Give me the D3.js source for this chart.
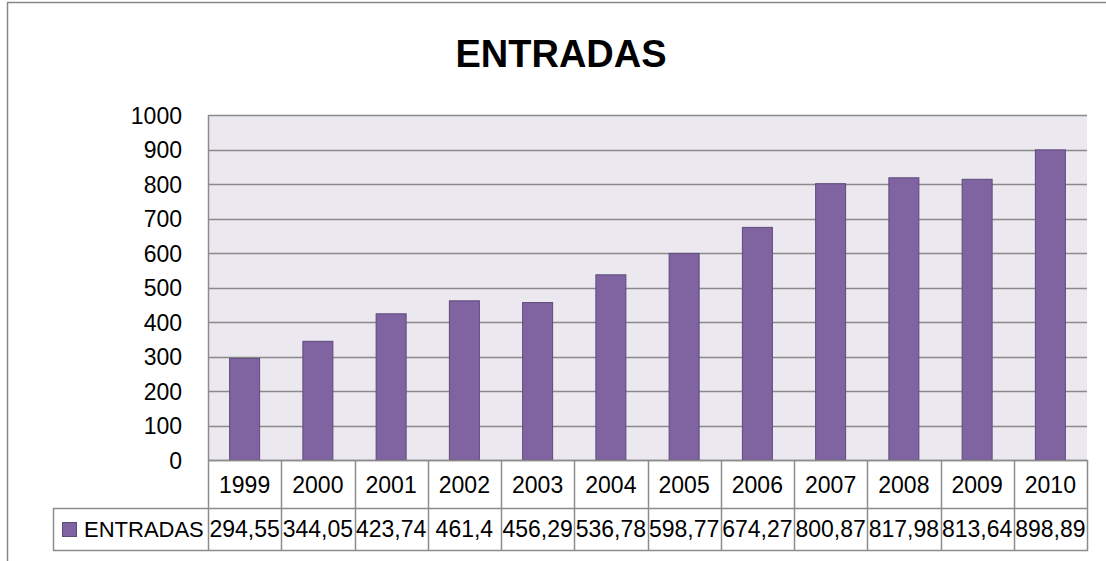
<!DOCTYPE html>
<html>
<head>
<meta charset="utf-8">
<script src="https://cdn.jsdelivr.net/npm/d3@7"></script>
<style>
  html, body { margin: 0; padding: 0; background: #fff; }
  svg { display: block; }
  text { font-family: "Liberation Sans", Arial, sans-serif; fill: #000; }
</style>
</head>
<body>
<svg id="chart" width="1106" height="561"></svg>
<script>
const title = "ENTRADAS";
const seriesName = "ENTRADAS";
const years = ["1999","2000","2001","2002","2003","2004","2005","2006","2007","2008","2009","2010"];
const values = [294.55, 344.05, 423.74, 461.4, 456.29, 536.78, 598.77, 674.27, 800.87, 817.98, 813.64, 898.89];
const valueLabels = ["294,55","344,05","423,74","461,4","456,29","536,78","598,77","674,27","800,87","817,98","813,64","898,89"];
const yTicks = [0, 100, 200, 300, 400, 500, 600, 700, 800, 900, 1000];

const svg = d3.select("#chart");
const W = 1106, H = 561;
const plot = { left: 208, right: 1087, top: 115, bottom: 460 };
const rowYearBottom = 508, rowValBottom = 550, legendLeft = 53;
const lineCol = "#8c8c8c";
const fs = 23;

// outer chart frame
svg.append("path")
  .attr("d", `M7.5,${H} L7.5,2.5 L${W},2.5`)
  .attr("fill", "none").attr("stroke", "#888").attr("stroke-width", 1.5);

// title
svg.append("text")
  .attr("x", 561).attr("y", 67)
  .attr("text-anchor", "middle")
  .attr("font-size", 38).attr("font-weight", "bold")
  .text(title);

const x = d3.scaleBand().domain(years).range([plot.left, plot.right]).paddingInner(0).paddingOuter(0);
const y = d3.scaleLinear().domain([0, 1000]).range([plot.bottom, plot.top]);

// plot background
svg.append("rect")
  .attr("x", plot.left).attr("y", plot.top)
  .attr("width", plot.right - plot.left).attr("height", plot.bottom - plot.top)
  .attr("fill", "#EBE9EF");

// gridlines
svg.append("g").selectAll("line").data(yTicks).join("line")
  .attr("x1", plot.left).attr("x2", plot.right)
  .attr("y1", d => Math.round(y(d)) + 0.5).attr("y2", d => Math.round(y(d)) + 0.5)
  .attr("stroke", "#8a8a8a").attr("stroke-width", 1.5);

// plot left border
svg.append("line").attr("x1", plot.left + 0.5).attr("x2", plot.left + 0.5)
  .attr("y1", plot.top).attr("y2", plot.bottom).attr("stroke", lineCol).attr("stroke-width", 1.5);

// y axis labels
const yAxis = d3.axisLeft(y).tickValues(yTicks).tickSize(0).tickPadding(0).tickFormat(d3.format("d"));
const yg = svg.append("g").attr("transform", `translate(182,0)`).call(yAxis);
yg.select(".domain").remove();
yg.selectAll("text").attr("font-size", fs).attr("font-family", "Liberation Sans, Arial, sans-serif").attr("fill", "#000").attr("dy", "0.36em");

// bars
const bw = 30;
svg.append("g").selectAll("rect").data(values).join("rect")
  .attr("x", (d, i) => x(years[i]) + x.bandwidth() / 2 - bw / 2)
  .attr("y", d => y(d))
  .attr("width", bw)
  .attr("height", d => plot.bottom - y(d))
  .attr("fill", "#8064A2")
  .attr("stroke", "#5E4A7A").attr("stroke-width", 1);

// data table
const tg = svg.append("g");
tg.append("line").attr("x1", plot.left).attr("x2", plot.right + 1).attr("y1", plot.bottom + 0.5).attr("y2", plot.bottom + 0.5)
  .attr("stroke", lineCol).attr("stroke-width", 1.5);
tg.append("line").attr("x1", legendLeft).attr("x2", plot.right + 1).attr("y1", rowYearBottom + 0.5).attr("y2", rowYearBottom + 0.5)
  .attr("stroke", lineCol).attr("stroke-width", 1.5);
tg.append("line").attr("x1", legendLeft).attr("x2", plot.right + 1).attr("y1", rowValBottom + 0.5).attr("y2", rowValBottom + 0.5)
  .attr("stroke", lineCol).attr("stroke-width", 1.5);
tg.append("line").attr("x1", legendLeft + 0.5).attr("x2", legendLeft + 0.5).attr("y1", rowYearBottom).attr("y2", rowValBottom + 1)
  .attr("stroke", lineCol).attr("stroke-width", 1.5);
const seps = years.map(d => x(d)).concat([plot.right]);
tg.selectAll("line.sep").data(seps).join("line").attr("class", "sep")
  .attr("x1", d => Math.round(d) + 0.5).attr("x2", d => Math.round(d) + 0.5)
  .attr("y1", plot.bottom).attr("y2", rowValBottom + 1)
  .attr("stroke", lineCol).attr("stroke-width", 1.5);

// year labels
tg.selectAll("text.yr").data(years).join("text").attr("class", "yr")
  .attr("x", d => x(d) + x.bandwidth() / 2).attr("y", 493)
  .attr("text-anchor", "middle").attr("font-size", fs)
  .text(d => d);

// value labels
tg.selectAll("text.val").data(valueLabels).join("text").attr("class", "val")
  .attr("x", (d, i) => x(years[i]) + x.bandwidth() / 2).attr("y", 537)
  .attr("text-anchor", "middle").attr("font-size", fs)
  .text(d => d);

// legend key
tg.append("rect").attr("x", 62.5).attr("y", 522.5).attr("width", 14).attr("height", 14)
  .attr("fill", "#8064A2").attr("stroke", "#5E4A7A").attr("stroke-width", 1);
tg.append("text").attr("x", 84).attr("y", 537).attr("font-size", 22).text(seriesName);
</script>
</body>
</html>
